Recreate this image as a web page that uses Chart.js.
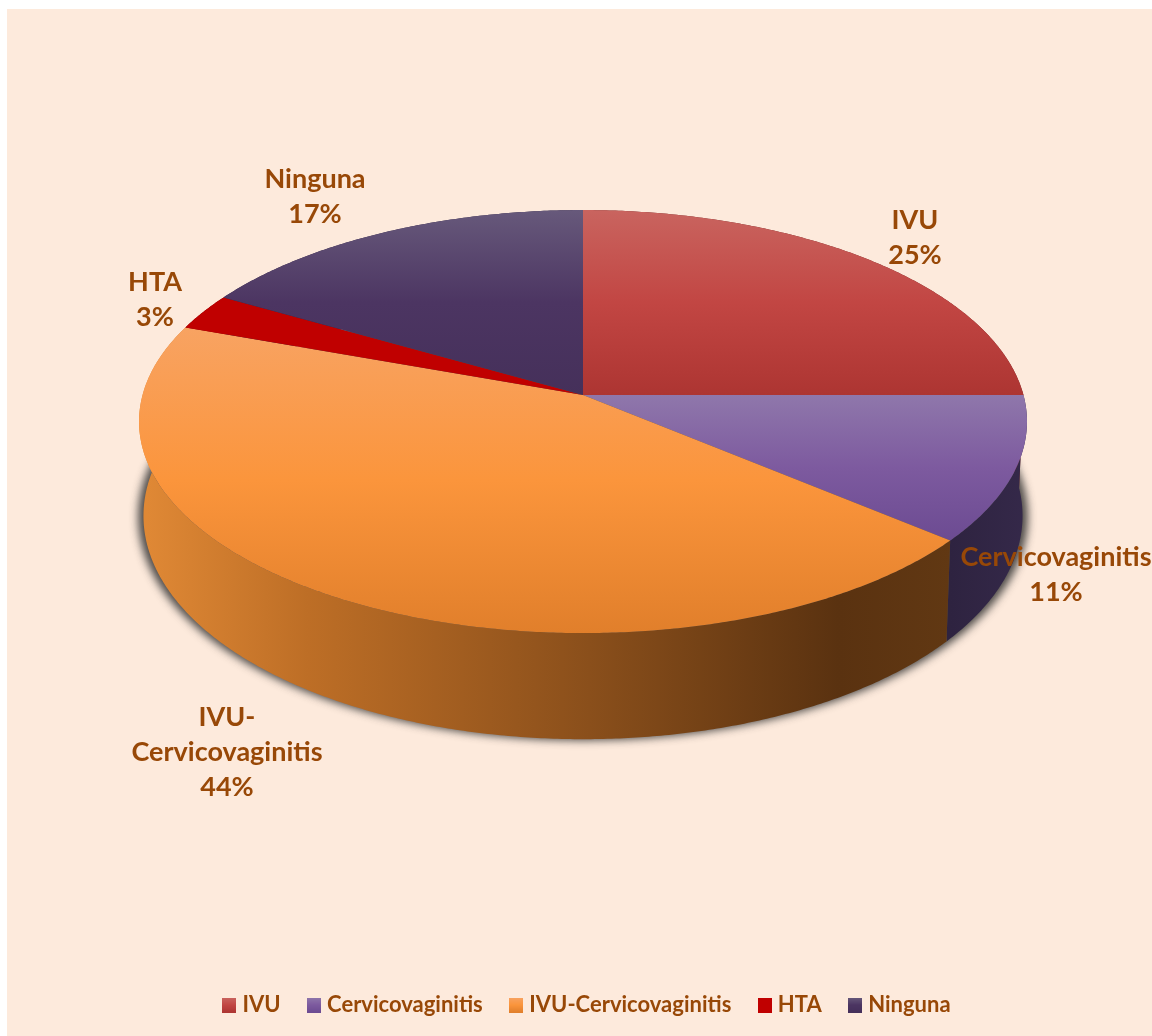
<!DOCTYPE html>
<html>
<head>
<meta charset="utf-8">
<style>
  html, body { margin: 0; padding: 0; background: #fff; }
  canvas { display: block; }
</style>
<script src="https://cdn.jsdelivr.net/npm/chart.js@4"></script>
</head>
<body>
<canvas id="pie3d" width="1152" height="1036"></canvas>
<script>
// ========== DATA ==========
const categories = ['IVU', 'Cervicovaginitis', 'IVU-Cervicovaginitis', 'HTA', 'Ninguna'];
const percents = [25, 11.1, 44.4, 2.8, 16.7];

// ========== STYLE ==========
const baseColors = ['#c0504d', '#8064a2', '#f79646', '#c00000', '#4f3a66'];
const topStops = [
    ['#c9645f', '#c24643', '#ad3532'],
    ['#8f77ab', '#7d5a9f', '#6c4b92'],
    ['#f8a362', '#fb953c', '#e17f2b'],
    ['#c00000', '#c00000', '#c00000'],
    ['#67597b', '#4c3562', '#45305a']
];
const wallStops = [
    [[0, '#6e2422'], [1, '#6e2422']],
    [[0, '#2e2340'], [1, '#35294a']],
    [[0, '#df8835'], [0.2, '#bd6e26'], [0.55, '#8a4f1b'], [0.86, '#5a3210'], [1, '#613813']],
    [[0, '#7a0000'], [1, '#7a0000']],
    [[0, '#2e2340'], [1, '#2e2340']]
];
// centre of each data label (x, y of the middle text line block)
const labelSpots = [[915, 238], [1056, 575], [227, 752], [155, 300], [315, 197]];
const textColor = '#984807';
const fontFamily = 'Lato, "Open Sans", sans-serif';

// perspective of the disc, relative to the radius chart.js gives us
const stretchX = 1.115, stretchY = 0.527, tilt = 0.1253, wallDepth = 0.235, wallShrink = 0.99;

function topPoint(arc, angle) {
    const u = Math.cos(angle), v = Math.sin(angle), d = 1 - tilt * v;
    return {
        x: arc.x + arc.outerRadius * stretchX * u / d,
        y: arc.y + arc.outerRadius * stretchY * v / d
    };
}

function wallPoint(arc, angle, grow) {
    const p = topPoint(arc, angle), d = 1 - tilt * Math.sin(angle);
    return {
        x: arc.x + (p.x - arc.x) * wallShrink * (grow || 1),
        y: p.y + arc.outerRadius * wallDepth / d
    };
}

function sampleAngles(a0, a1) {
    const out = [], n = Math.max(2, Math.ceil((a1 - a0) * 120));
    for (let i = 0; i <= n; i++) out.push(a0 + (a1 - a0) * i / n);
    return out;
}

function tracePoints(ctx, pts) {
    ctx.beginPath();
    pts.forEach((p, i) => { if (i === 0) ctx.moveTo(p.x, p.y); else ctx.lineTo(p.x, p.y); });
    ctx.closePath();
}

function makeSwatch(stops) {
    const c = document.createElement('canvas');
    c.width = 14; c.height = 15;
    const g2 = c.getContext('2d');
    const grad = g2.createLinearGradient(0, 0, 0, 15);
    stops.forEach((col, i) => grad.addColorStop(i / (stops.length - 1), col));
    g2.fillStyle = grad;
    g2.fillRect(0, 0, 14, 15);
    return c;
}

// paints the slices chart.js laid out as a tilted disc with a wall
const disc3d = {
    id: 'disc3d',
    afterLayout(chart) {
        // legend row sits a bit right of the pie centre in the original
        chart.legend.left += 6;
        chart.legend.right += 6;
    },
    beforeDraw(chart) {
        const { ctx, width, height } = chart;
        ctx.save();
        ctx.fillStyle = '#fdeadc';
        ctx.fillRect(7, 9, width - 7, height - 9);
        ctx.restore();
    },
    beforeDatasetDraw(chart, args) {
        const { ctx } = chart;
        const arcs = args.meta.data;
        const first = arcs[0];
        const whole = sampleAngles(-Math.PI / 2, Math.PI * 1.5);

        ctx.save();
        // soft shadow under the lower rim, shape itself is drawn off canvas
        ctx.save();
        ctx.shadowColor = 'rgba(45,45,45,0.85)';
        ctx.shadowBlur = 8;
        ctx.shadowOffsetX = 3000;
        ctx.shadowOffsetY = 1;
        ctx.fillStyle = '#000';
        tracePoints(ctx, whole.map(a => {
            const p = wallPoint(first, a, 1.012);
            return { x: p.x - 3000, y: p.y };
        }));
        ctx.fill();
        ctx.restore();

        const left = first.x - first.outerRadius * stretchX;
        const right = topPoint(first, Math.asin(0.64)).x;

        // walls
        arcs.forEach((arc, i) => {
            const angles = sampleAngles(arc.startAngle, arc.endAngle);
            const upper = angles.map(a => topPoint(arc, a));
            const lower = angles.map(a => wallPoint(arc, a)).reverse();
            const grad = i === 1
                ? ctx.createLinearGradient(right, 0, right + 80, 0)
                : ctx.createLinearGradient(left + 5, 0, right, 0);
            wallStops[i].forEach(s => grad.addColorStop(s[0], s[1]));
            ctx.fillStyle = grad;
            tracePoints(ctx, upper.concat(lower));
            ctx.fill();
        });

        // top faces
        arcs.forEach((arc, i) => {
            const pts = sampleAngles(arc.startAngle, arc.endAngle).map(a => topPoint(arc, a));
            pts.unshift({ x: arc.x, y: arc.y });
            const ys = pts.map(p => p.y);
            const grad = ctx.createLinearGradient(0, Math.min(...ys), 0, Math.max(...ys));
            topStops[i].forEach((col, k) => grad.addColorStop(k / 2, col));
            ctx.fillStyle = grad;
            tracePoints(ctx, pts);
            ctx.fill();
        });
        ctx.restore();
        return false;
    },
    afterDatasetsDraw(chart) {
        const { ctx } = chart;
        ctx.save();
        ctx.fillStyle = textColor;
        ctx.font = 'bold 27px ' + fontFamily;
        ctx.textAlign = 'center';
        ctx.textBaseline = 'middle';
        categories.forEach((name, i) => {
            const lines = name.split(/(?<=-)/).concat(Math.round(percents[i]) + '%');
            const lineStep = 35;
            lines.forEach((line, k) => {
                ctx.fillText(line, labelSpots[i][0], labelSpots[i][1] + (k - (lines.length - 1) / 2) * lineStep);
            });
        });
        ctx.restore();
    }
};

new Chart(document.getElementById('pie3d'), {
    type: 'pie',
    data: {
        labels: categories,
        datasets: [{ data: percents, backgroundColor: baseColors, borderWidth: 0 }]
    },
    options: {
        responsive: false,
        animation: false,
        layout: { padding: { left: 14, right: 0, top: 0, bottom: 10 } },
        plugins: {
            tooltip: { enabled: false },
            legend: {
                position: 'bottom',
                title: { display: true, text: '', padding: { top: 158, bottom: 0 } },
                labels: {
                    color: textColor,
                    font: { family: fontFamily, size: 22, weight: 'bold' },
                    usePointStyle: true,
                    boxWidth: 4,
                    boxHeight: 15,
                    padding: 31.5,
                    generateLabels(chart) {
                        const items = Chart.overrides.doughnut.plugins.legend.labels.generateLabels(chart);
                        items.forEach((item, i) => { item.pointStyle = makeSwatch(topStops[i]); });
                        return items;
                    }
                }
            }
        }
    },
    plugins: [disc3d]
});
</script>
</body>
</html>
